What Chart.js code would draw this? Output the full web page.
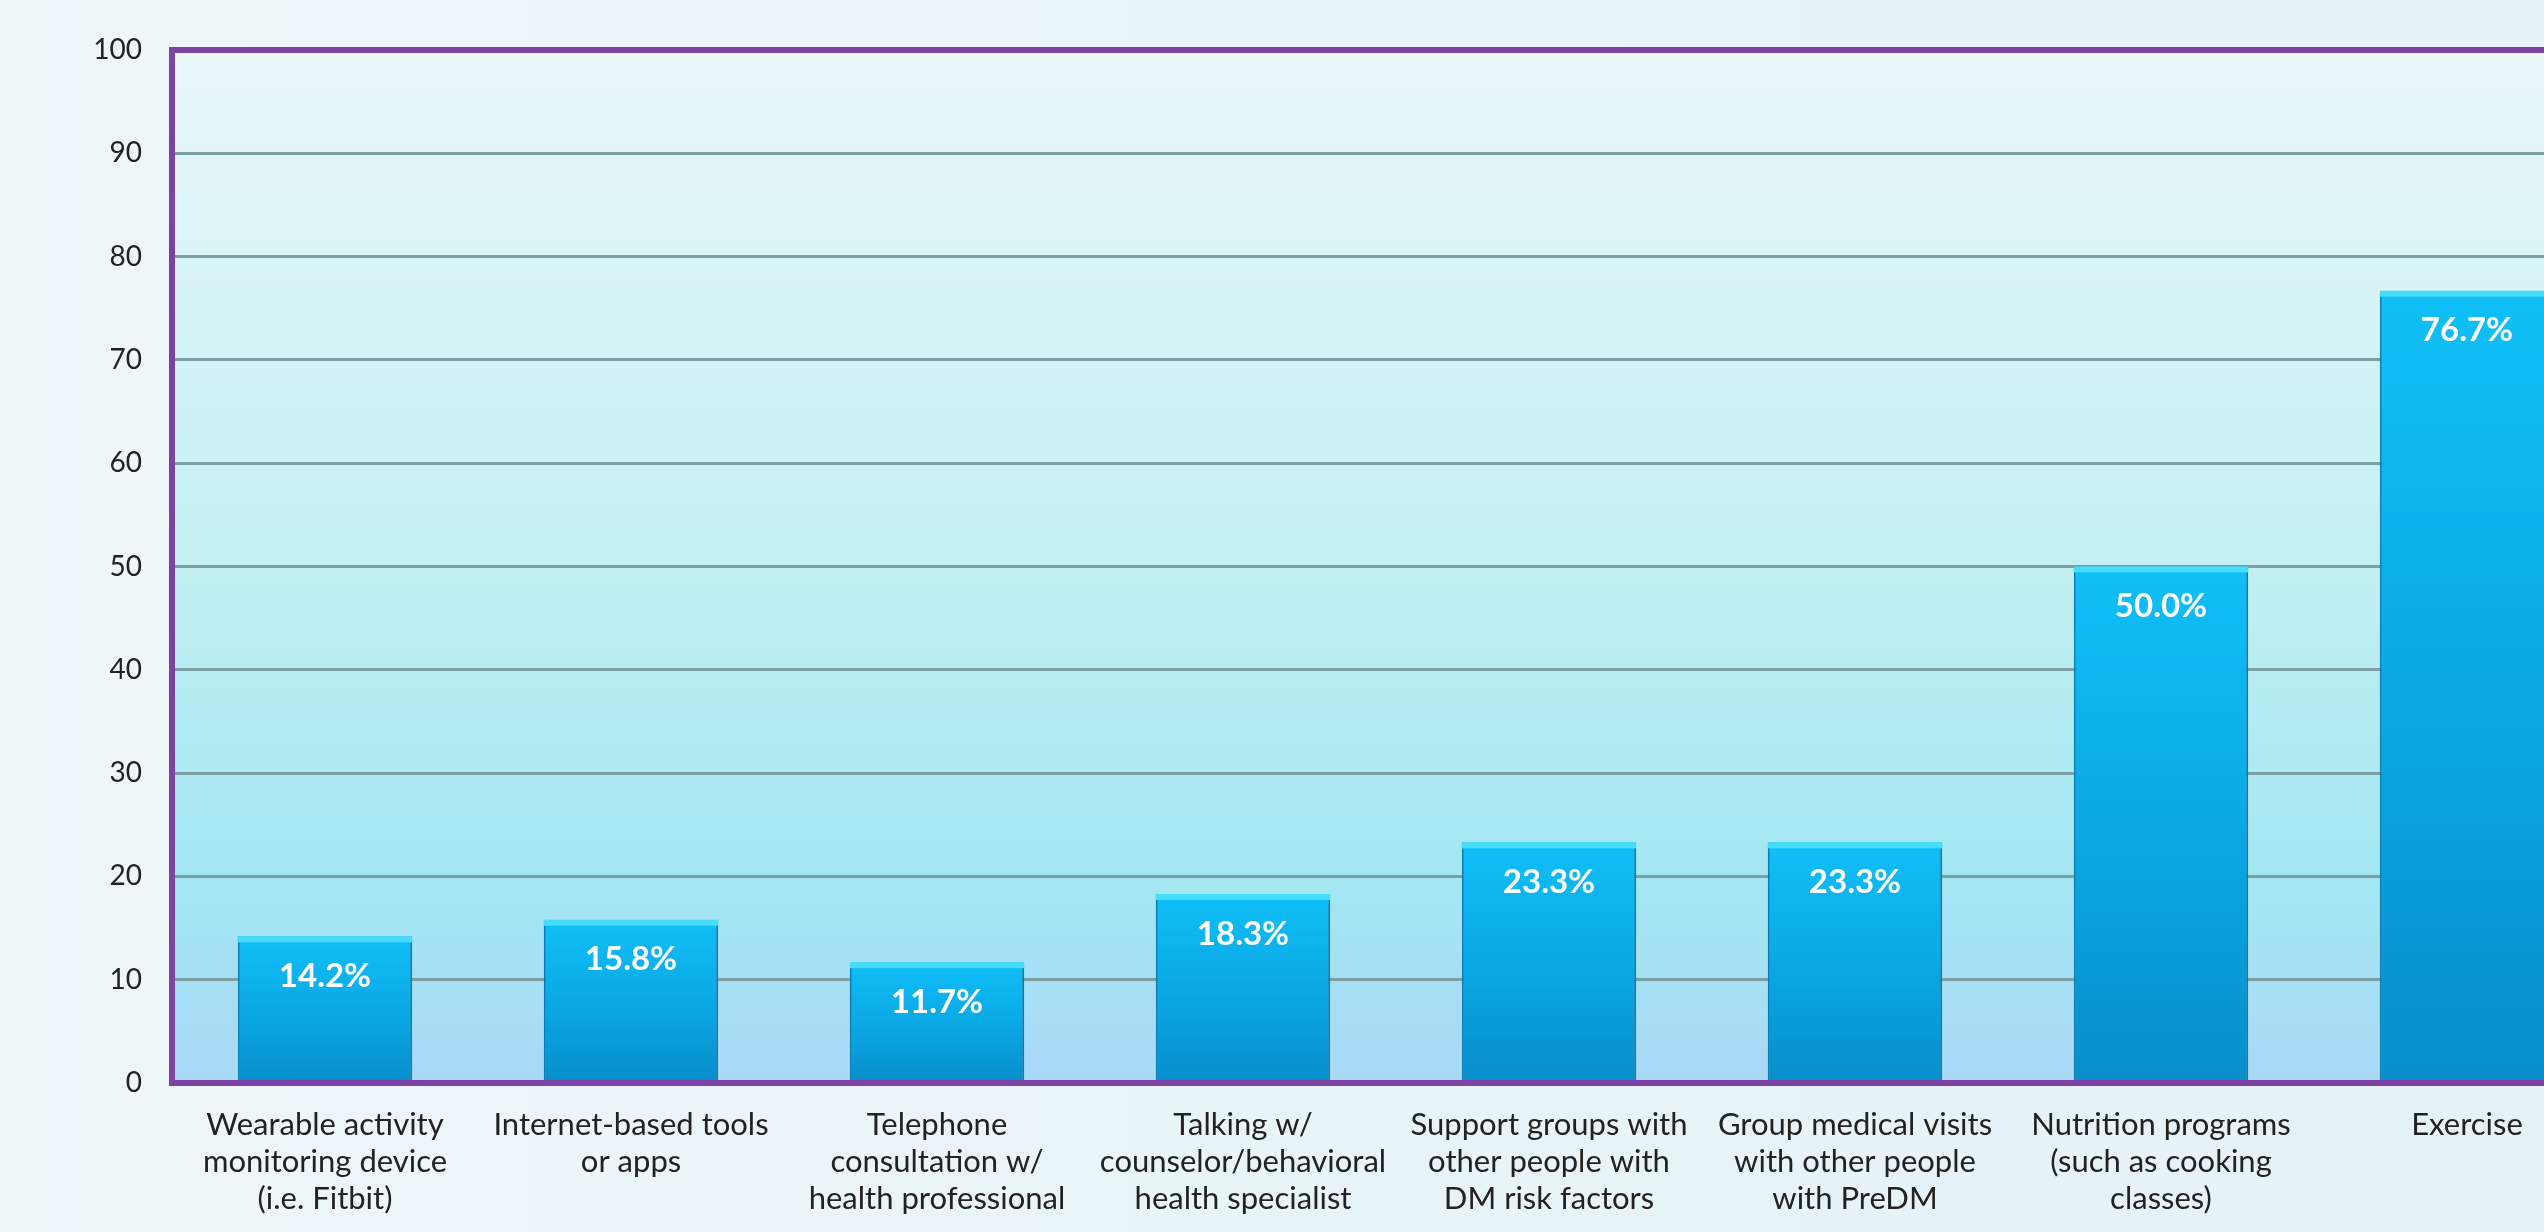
<!DOCTYPE html>
<html>
<head>
<meta charset="utf-8">
<script src="https://cdn.jsdelivr.net/npm/chart.js@4.4.1/dist/chart.umd.min.js"></script>
<style>
  html, body { margin: 0; padding: 0; overflow: hidden; }
  body {
    width: 2544px; height: 1232px;
    background: linear-gradient(90deg, #eef6fa 0%, #e9f4f9 50%, #e6f2f8 100%);
  }
  #wrap { position: absolute; left: 0; top: 0; width: 2640px; height: 1232px; }
</style>
</head>
<body>
<div id="wrap"><canvas id="myChart" width="2640" height="1232"></canvas></div>
<script>
"use strict";
const categories = [
  ["Wearable activity", "monitoring device", "(i.e. Fitbit)"],
  ["Internet-based tools", "or apps"],
  ["Telephone", "consultation w/", "health professional"],
  ["Talking w/", "counselor/behavioral", "health specialist"],
  ["Support groups with", "other people with", "DM risk factors"],
  ["Group medical visits", "with other people", "with PreDM"],
  ["Nutrition programs", "(such as cooking", "classes)"],
  ["Exercise"],
];
const percentages = [14.2, 15.8, 11.7, 18.3, 23.3, 23.3, 50.0, 76.7];
const yTicks = [0, 10, 20, 30, 40, 50, 60, 70, 80, 90, 100];

const fontFamily = "Lato, 'Open Sans', sans-serif";
const ctx = document.getElementById("myChart").getContext("2d");

function barGradient(context) {
  const chart = context.chart;
  const area = chart.chartArea;
  if (!area || !chart.scales.y) return "#0aa8e6";
  const top = chart.scales.y.getPixelForValue(context.raw);
  const g = chart.ctx.createLinearGradient(0, top, 0, area.bottom);
  g.addColorStop(0, "#10bff7");
  g.addColorStop(0.5, "#0aa9e6");
  g.addColorStop(1, "#078ecb");
  return g;
}

const plotBackground = {
  id: "plotBackground",
  beforeDraw(chart) {
    const { ctx, chartArea: a } = chart;
    const g = ctx.createLinearGradient(0, a.top, 0, a.bottom);
    g.addColorStop(0, "#e9f7f9");
    g.addColorStop(0.45, "#c7f1f3");
    g.addColorStop(0.8, "#a3e7f2");
    g.addColorStop(1, "#a9d8f7");
    ctx.save();
    ctx.fillStyle = g;
    ctx.fillRect(a.left, a.top, a.right - a.left, a.bottom - a.top);
    ctx.restore();
  },
};

const frameAndLabels = {
  id: "frameAndLabels",
  afterDatasetsDraw(chart) {
    const { ctx, chartArea: a } = chart;
    ctx.save();
    // purple frame
    ctx.strokeStyle = "#7c43a3";
    ctx.lineWidth = 6;
    ctx.beginPath();
    ctx.moveTo(a.right, a.top);
    ctx.lineTo(a.left, a.top);
    ctx.lineTo(a.left, a.bottom);
    ctx.lineTo(a.right, a.bottom);
    ctx.stroke();

    const meta = chart.getDatasetMeta(0);
    meta.data.forEach((bar, i) => {
      const half = bar.width / 2;
      // cyan highlight on top of each bar
      ctx.fillStyle = "#46dcfb";
      ctx.fillRect(bar.x - half, bar.y, bar.width, 6);
      // value label
      ctx.fillStyle = "#ffffff";
      ctx.font = "bold 33px " + fontFamily;
      ctx.textAlign = "center";
      ctx.textBaseline = "middle";
      ctx.fillText(percentages[i].toFixed(1) + "%", bar.x, bar.y + 40);
    });
    ctx.restore();
  },
};

const data = {
  labels: categories,
  datasets: [
    {
      data: percentages,
      backgroundColor: barGradient,
      borderColor: "#0a7cb0",
      borderWidth: { left: 2, right: 2, top: 0, bottom: 0 },
      borderSkipped: false,
      categoryPercentage: 1,
      barPercentage: 0.57,
    },
  ],
};

const config = {
  type: "bar",
  data: data,
  plugins: [plotBackground, frameAndLabels],
  options: {
    responsive: false,
    animation: false,
    events: [],
    layout: { padding: { left: 0, right: 20, top: 50, bottom: 0 } },
    plugins: {
      legend: { display: false },
      tooltip: { enabled: false },
    },
    scales: {
      x: {
        grid: { display: false, drawTicks: false },
        border: { display: false },
        ticks: {
          color: "#222222",
          padding: 24,
          maxRotation: 0,
          autoSkip: false,
          font: { family: fontFamily, size: 31, lineHeight: 1.19 },
        },
        afterFit(scale) {
          scale.height = 149;
        },
      },
      y: {
        min: 0,
        max: 100,
        afterBuildTicks(scale) {
          scale.ticks = yTicks.map((v) => ({ value: v }));
        },
        grid: { color: "#7c9fa4", lineWidth: 3, drawTicks: false },
        border: { display: false },
        ticks: {
          color: "#222222",
          padding: 30,
          font: { family: fontFamily, size: 28 },
        },
        afterFit(scale) {
          scale.width = 172;
        },
      },
    },
  },
};

const myChart = new Chart(ctx, config);
</script>
</body>
</html>
